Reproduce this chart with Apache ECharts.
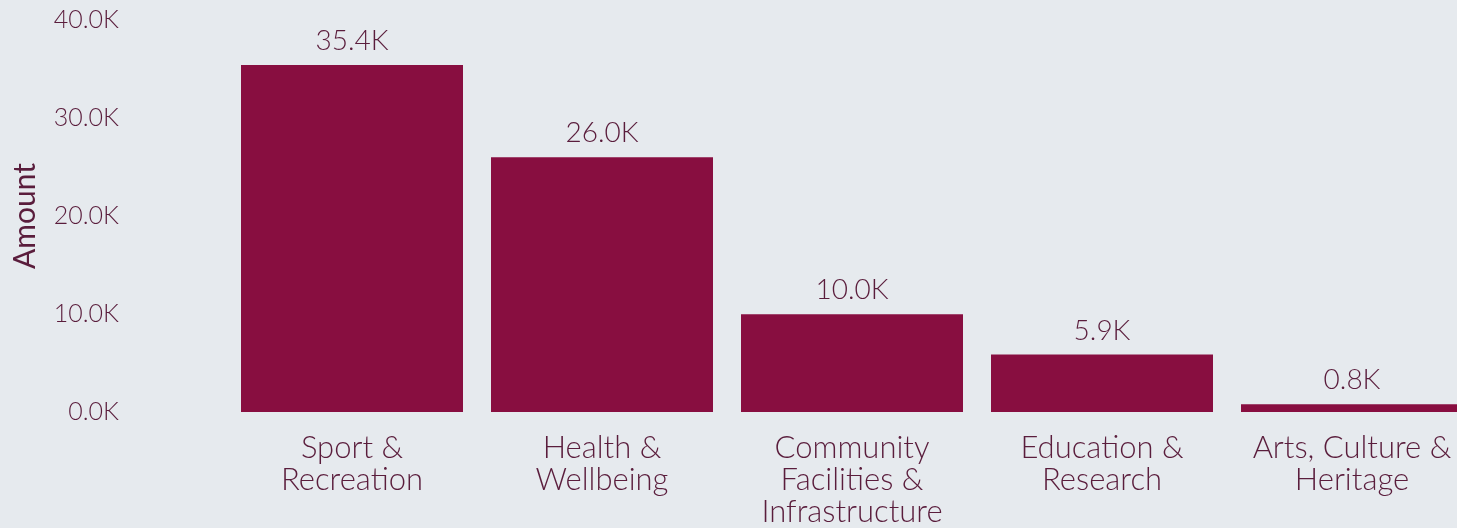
<!DOCTYPE html>
<html><head><meta charset="utf-8">
<script src="https://cdn.jsdelivr.net/npm/echarts@6/dist/echarts.min.js"></script>
<style>html,body{margin:0;padding:0;background:#e6eaee;overflow:hidden;width:1457px;height:528px;}#c{width:1477px;height:528px;}</style>
</head><body><div id="c"></div>
<script>
const categories = ['Sport &\nRecreation', 'Health &\nWellbeing', 'Community\nFacilities &\nInfrastructure', 'Education &\nResearch', 'Arts, Culture &\nHeritage'];
const amounts = [35400, 26000, 9980, 5870, 780];
const yTicks = { min: 0, max: 40000, interval: 10000 };

const txt = '#5a1d3c';
const font = 'Lato';
const chart = echarts.init(document.getElementById('c'));
chart.setOption({
  backgroundColor: '#e6eaee',
  animation: false,
  grid: { left: 227, top: 20, right: 0, bottom: 114, containLabel: false },
  xAxis: {
    type: 'category', data: categories,
    axisLine: { show: false }, axisTick: { show: false },
    axisLabel: { color: txt, fontFamily: font, fontWeight: 300, fontSize: 31, lineHeight: 32, margin: 20, interval: 0 }
  },
  yAxis: {
    type: 'value', min: yTicks.min, max: yTicks.max, interval: yTicks.interval,
    name: 'Amount', nameLocation: 'middle', nameGap: 187,
    nameTextStyle: { color: txt, fontFamily: font, fontSize: 30, fontWeight: 400 },
    splitLine: { show: false }, axisLine: { show: false }, axisTick: { show: false },
    axisLabel: { color: txt, fontFamily: font, fontWeight: 300, fontSize: 25, margin: 108,
      formatter: v => (v / 1000).toFixed(1) + 'K' }
  },
  series: [{
    type: 'bar', data: amounts, barCategoryGap: '11.2%',
    itemStyle: { color: '#880e40' },
    label: { show: true, position: 'top', distance: 10, color: txt, fontFamily: font, fontWeight: 300, fontSize: 28,
      formatter: p => (p.value / 1000).toFixed(1) + 'K' }
  }]
});
</script></body></html>
